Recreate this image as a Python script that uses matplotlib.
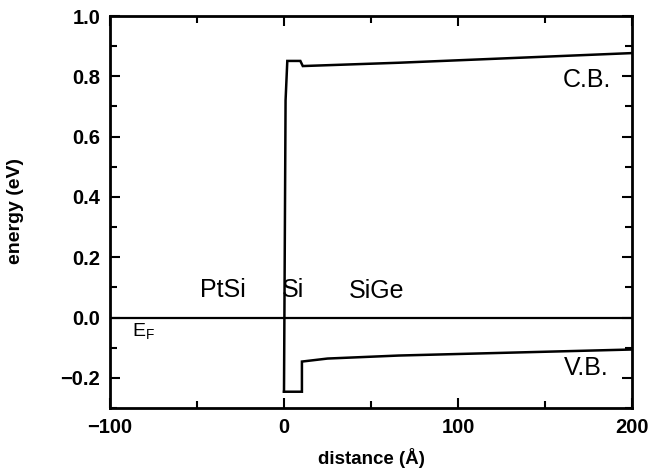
import numpy as np
import matplotlib.pyplot as plt
from matplotlib.ticker import MultipleLocator

# band edges across the PtSi / Si / SiGe structure (distance in Angstrom, energy in eV)
cb_x = [0, 0.9, 1.9, 9.4, 10.8, 66, 200]
cb_y = [-0.246, 0.72, 0.851, 0.851, 0.834, 0.845, 0.877]
vb_x = [0, 10.3, 10.3, 25, 66, 200]
vb_y = [-0.246, -0.246, -0.146, -0.136, -0.126, -0.106]
ef_x = [-100, 200]
ef_y = [0.0, 0.0]

region_labels = ['PtSi', 'Si', 'SiGe']
region_x = [-35, 5.2, 53]
region_y = [0.092, 0.092, 0.087]

plt.rcParams['font.family'] = ['Liberation Sans', 'DejaVu Sans']
plt.rcParams['mathtext.fontset'] = 'custom'
plt.rcParams['mathtext.rm'] = 'Liberation Sans'

fig = plt.figure(figsize=(6.48, 4.69), dpi=100)
ax = fig.add_axes([110/648, 1 - 408/469, 522/648, 392/469])

lw = 1.8
ax.plot(ef_x, ef_y, color='black', lw=1.6)
ax.plot(cb_x, cb_y, color='black', lw=lw, solid_joinstyle='miter')
ax.plot(vb_x, vb_y, color='black', lw=lw, solid_joinstyle='miter')

ax.set_xlim(-100, 200)
ax.set_ylim(-0.3, 1.0)
ax.xaxis.set_major_locator(MultipleLocator(100))
ax.xaxis.set_minor_locator(MultipleLocator(50))
ax.yaxis.set_major_locator(MultipleLocator(0.2))
ax.yaxis.set_minor_locator(MultipleLocator(0.1))
ax.yaxis.set_major_formatter(plt.FuncFormatter(lambda v, p: f'{v:.1f}'.replace('-', '\u2212')))

for s in ax.spines.values():
    s.set_linewidth(2.0)
ax.tick_params(which='both', direction='in', top=True, right=True, width=1.5)
ax.tick_params(which='major', length=7, labelsize=14.5, pad=7)
ax.tick_params(which='minor', length=5)
for t in ax.get_xticklabels() + ax.get_yticklabels():
    t.set_fontweight('bold')

for name, x, y in zip(region_labels, region_x, region_y):
    ax.text(x, y, name, fontsize=18, ha='center', va='center')
ax.text(-87.5, -0.062, r'$\mathregular{E_F}$', fontsize=14, ha='left', va='baseline')
ax.text(174, 0.787, 'C.B.', fontsize=18, ha='center', va='center')
ax.text(173.5, -0.166, 'V.B.', fontsize=18, ha='center', va='center')

fig.text(371/648, 1 - 458/469, 'distance (Å)', fontsize=13.5, fontweight='bold',
         ha='center', va='center')
fig.text(16/648, 1 - 158/469, 'energy (eV)', fontsize=14, fontweight='bold',
         ha='center', va='top', rotation=90)

fig.savefig('out.png', dpi=100, facecolor='white')
